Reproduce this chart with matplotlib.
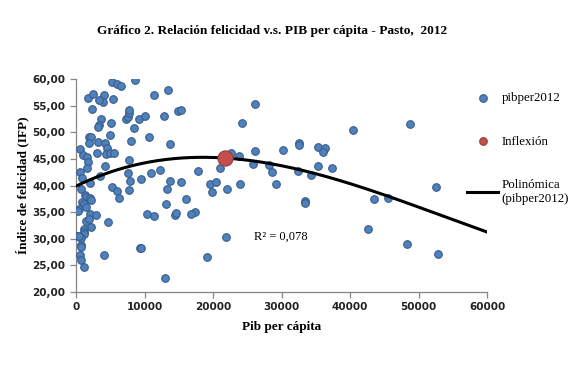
import numpy as np
import matplotlib
matplotlib.use('Agg')
import matplotlib.pyplot as plt
from matplotlib.ticker import FuncFormatter

# datos (pib per capita, indice de felicidad)
pib = [5250, 6000, 6600, 8600, 1700, 2450, 4100, 5400, 4000, 3300, 11400, 13400,
       2400, 3600, 3350, 3200, 5100, 7350, 7550, 7750, 7700, 9150, 10000, 12850,
       14900, 15300, 8450, 26150, 24300, 48700, 40500,
       5000, 1850, 2250, 3150, 1950, 4250, 4500, 10600, 8000, 13700, 600, 1000,
       1650, 3050, 4400, 5000, 5500, 32500, 32500, 35400, 36400, 36100, 26100,
       30250, 22600, 23750,
       1700, 1650, 4300, 7800, 600, 900, 2000, 3450, 7650, 7950, 9500, 11000,
       12300, 13750, 15400, 17750, 25900, 28150, 21050, 28650, 32450, 35300,
       37300, 34300, 19600, 20450, 23900, 29150,
       13250, 5250, 6000, 6350, 7700, 800, 1250, 1450, 2050, 2250, 900, 1150,
       400, 1450, 19850, 22000, 16050, 13200, 33400, 33450, 43450, 45600, 52600,
       17300, 300,
       2050, 2850, 1450, 1900, 4700, 2150, 10400, 11450, 14450, 14650, 16800,
       1100, 1200, 1150, 200, 800, 450,
       800, 800, 600, 750, 1100, 4100, 9300, 9550, 19100, 13050, 42700, 48300,
       52800, 21850]
felicidad = [59.4, 59.1, 58.7, 59.9, 56.4, 57.2, 57.0, 56.3, 55.7, 56.1, 57.0, 58.0,
             54.3, 52.5, 51.4, 51.0, 51.8, 52.4, 52.9, 53.7, 54.2, 52.5, 53.0, 53.0,
             53.9, 54.1, 50.8, 55.3, 51.7, 51.6, 50.5,
             49.4, 49.2, 49.2, 48.1, 48.0, 48.0, 47.1, 49.2, 48.4, 47.7, 46.9, 45.8,
             45.3, 46.1, 46.0, 46.1, 46.1, 48.0, 47.6, 47.3, 47.1, 46.3, 46.5,
             46.6, 46.1, 45.6,
             44.4, 43.2, 43.7, 44.7, 42.6, 41.4, 40.4, 41.8, 42.4, 40.9, 41.3, 42.3,
             42.9, 40.9, 40.7, 42.7, 44.1, 43.9, 43.2, 42.5, 42.8, 43.6,
             43.2, 42.0, 40.2, 40.6, 40.2, 40.2,
             39.3, 39.7, 39.0, 37.6, 39.1, 39.3, 38.2, 37.9, 37.6, 37.2, 36.9, 36.6,
             35.6, 35.9, 38.8, 39.4, 37.4, 36.6, 37.1, 36.7, 37.4, 37.6, 39.8,
             35.0, 35.2,
             34.7, 34.5, 33.4, 33.7, 33.2, 32.3, 34.7, 34.2, 34.5, 34.9, 34.6,
             31.8, 31.3, 30.9, 30.6, 30.1, 30.5,
             28.9, 28.4, 26.9, 26.1, 24.7, 26.9, 28.3, 28.3, 26.6, 22.6, 31.8, 29.0,
             27.1, 30.3]
inflexion_x = [21700]
inflexion_y = [45.2]

# valores de la linea de tendencia de Excel
tend_x = [0, 5000, 10000, 15000, 20000, 25000, 30000, 35000, 40000, 45000, 50000, 55000, 60000]
tend_y = [39.9, 42.6, 44.1, 45.0, 45.3, 44.9, 43.8, 42.2, 40.3, 38.2, 35.9, 33.6, 31.3]
r2_text = 'R² = 0,078'

azul = '#4F81BD'
azul_borde = '#385D8A'
rojo = '#C0504D'
rojo_borde = '#9B3B38'
serif = 'Liberation Serif'

fig = plt.figure(figsize=(5.8, 3.65), dpi=100)
ax = fig.add_axes([76 / 580, 1 - 292 / 365, 411 / 580, 213 / 365])

ax.scatter(pib, felicidad, s=30, color=azul, edgecolor=azul_borde, linewidth=0.8,
           zorder=3, label='pibper2012')
ax.scatter(inflexion_x, inflexion_y, s=120, color=rojo, edgecolor=rojo_borde,
           linewidth=0.8, zorder=5, label='Inflexión')

# tendencia polinomica (grado 3)
coef = np.polyfit(tend_x, tend_y, 3)
xs = np.linspace(0, 60000, 300)
ax.plot(xs, np.polyval(coef, xs), color='black', linewidth=2.2, zorder=4,
        label='Polinómica\n(pibper2012)')

ax.text(26000, 30.4, r2_text, fontsize=9, family=serif, va='center')

ax.set_xlim(0, 60000)
ax.set_ylim(20, 60)
ax.set_xticks(range(0, 60001, 10000))
ax.set_yticks(range(20, 61, 5))
ax.yaxis.set_major_formatter(FuncFormatter(lambda v, p: ('%.2f' % v).replace('.', ',')))
for s in ['top', 'right']:
    ax.spines[s].set_visible(False)
for s in ['left', 'bottom']:
    ax.spines[s].set_color('#868686')
    ax.spines[s].set_linewidth(0.9)
ax.tick_params(colors='#868686', labelcolor='black', labelsize=7.5, length=4, width=0.9)
for lab in ax.get_xticklabels() + ax.get_yticklabels():
    lab.set_fontweight('bold')
    lab.set_color('#222222')

ax.set_xlabel('Pib per cápita', family=serif, fontweight='bold', fontsize=9.5, labelpad=6)
ax.set_ylabel('Índice de felicidad (IFP)', family=serif, fontweight='bold', fontsize=9.5,
              labelpad=2)

fig.text(272 / 580, 1 - 31 / 365, 'Gráfico 2. Relación felicidad v.s. PIB per cápita - Pasto,  2012',
         ha='center', va='center', family=serif, fontweight='bold', fontsize=9.6)

leg = ax.legend(loc='upper left', bbox_to_anchor=(467 / 580, 1 - 92 / 365),
                bbox_transform=fig.transFigure, frameon=False, handlelength=2.4,
                handletextpad=0.3, labelspacing=2.45, markerscale=1.0,
                prop={'family': serif, 'size': 9.3}, borderpad=0, borderaxespad=0)
leg.legend_handles[1].set_sizes([30])
leg.legend_handles[0].set_sizes([30])

fig.savefig('out.png', dpi=100)
